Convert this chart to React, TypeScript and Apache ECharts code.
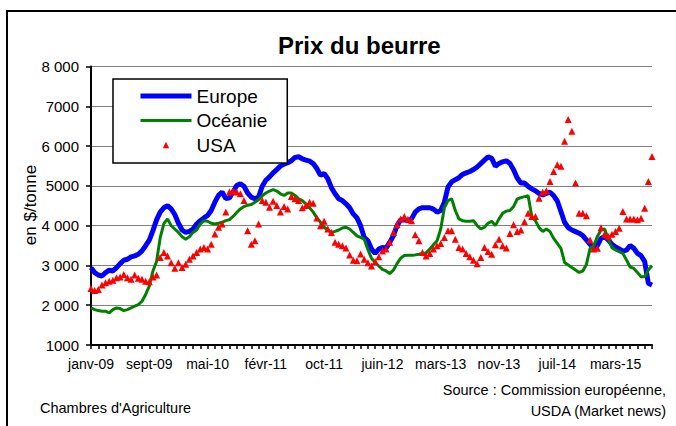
import React, { useEffect, useRef } from "react";
import * as echarts from "echarts";

// Half-tick sampling positions (155 points, ticks every 2 points)
const xTickLabels = ["janv-09", "sept-09", "mai-10", "févr-11", "oct-11", "juin-12", "mars-13", "nov-13", "juil-14", "mars-15"];
const yTickLabels: Record<number, string> = { 1000: "1000", 2000: "2 000", 3000: "3 000", 4000: "4 000", 5000: "5000", 6000: "6 000", 7000: "7000", 8000: "8 000" };

const europe = [
  2945, 2820, 2760, 2735, 2820, 2880, 2860, 2945, 3045, 3130, 3155, 3215, 3240, 3280, 3365, 3495, 3635, 3875, 4145, 4340,
  4450, 4505, 4420, 4280, 4060, 3890, 3830, 3855, 3915, 4040, 4125, 4195, 4255, 4380, 4590, 4760, 4845, 4680, 4700, 4845,
  5010, 5055, 4990, 4820, 4717, 4675, 4717, 4990, 5140, 5225, 5325, 5410, 5495, 5545, 5580, 5630, 5715, 5730, 5680, 5645,
  5620, 5560, 5435, 5265, 5310, 5180, 4955, 4800, 4675, 4630, 4550, 4450, 4295, 4195, 4000, 3705, 3620, 3410, 3300, 3410,
  3450, 3435, 3580, 3745, 4000, 4145, 4145, 4125, 4170, 4340, 4420, 4450, 4450, 4450, 4415, 4340, 4380, 4590, 4970, 5100,
  5155, 5205, 5290, 5325, 5360, 5410, 5475, 5560, 5645, 5730, 5690, 5495, 5560, 5605, 5630, 5565, 5405, 5195, 5070, 5070,
  4985, 4925, 4875, 4810, 4775, 4810, 4840, 4755, 4620, 4355, 4085, 3950, 3890, 3850, 3810, 3750, 3640, 3530, 3430, 3500,
  3680, 3725, 3640, 3530, 3465, 3415, 3360, 3385, 3500, 3430, 3305, 3245, 3095, 2550, 2505,
];

const oceanie = [
  1932, 1890, 1865, 1850, 1850, 1805, 1890, 1932, 1915, 1865, 1890, 1932, 1975, 2015, 2100, 2270, 2480, 2860, 3100, 3700,
  4050, 4170, 4000, 3915, 3830, 3720, 3660, 3720, 3830, 3890, 4040, 4125, 4110, 4060, 4040, 4060, 4085, 4125, 4150, 4230,
  4330, 4420, 4480, 4515, 4530, 4590, 4650, 4750, 4820, 4870, 4905, 4870, 4800, 4760, 4820, 4820, 4760, 4675, 4630, 4550,
  4450, 4340, 4195, 4085, 3960, 3890, 3830, 3855, 3890, 3940, 3960, 3915, 3830, 3745, 3705, 3660, 3400, 3180, 3070, 2985,
  2900, 2860, 2795, 2880, 3045, 3180, 3250, 3255, 3255, 3265, 3280, 3300, 3315, 3410, 3520, 3620, 3915, 4450, 4630, 4675,
  4380, 4170, 4125, 4110, 4110, 4125, 4000, 3915, 3960, 4060, 4110, 4000, 4170, 4310, 4365, 4380, 4480, 4670, 4705, 4730,
  4750, 4230, 4120, 3950, 3850, 3915, 3850, 3680, 3555, 3430, 3075, 3010, 2945, 2885, 2825, 2860, 3025, 3430, 3500, 3725,
  3890, 3915, 3665, 3445, 3390, 3345, 3305, 3135, 2960, 2925, 2825, 2715, 2715, 2885, 2995,
];

const usa = [
  2420, 2370, 2395, 2505, 2565, 2605, 2625, 2690, 2710, 2775, 2690, 2650, 2760, 2675, 2650, 2605, 2590, 2710, 2760, 3200,
  3325, 3240, 3070, 2930, 3070, 2945, 3030, 3155, 3240, 3325, 3410, 3450, 3410, 3535, 3790, 3960, 4040, 4340, 4845, 4870,
  4845, 4800, 4630, 3870, 3530, 3620, 4040, 4630, 4590, 4465, 4615, 4505, 4340, 4480, 4420, 4735, 4675, 4630, 4450, 4505,
  4590, 4565, 4195, 4000, 4110, 3915, 3830, 3580, 3535, 3495, 3435, 3265, 3130, 3115, 3285, 3155, 3070, 2985, 3100, 3215,
  3365, 3410, 3580, 3830, 4025, 4170, 4230, 4160, 4125, 3770, 3620, 3325, 3240, 3300, 3410, 3495, 3550, 3705, 3870, 3870,
  3660, 3450, 3410, 3300, 3215, 3130, 3045, 3200, 3450, 3350, 3280, 3520, 3660, 3495, 3435, 3800, 4020, 3850, 3890, 4100,
  4310, 4230, 4230, 4690, 4840, 4875, 5110, 5360, 5530, 5490, 6120, 6665, 6370, 5070, 4310, 4310, 4250, 3640, 3415, 3430,
  3950, 3785, 3725, 3785, 3850, 3935, 4355, 4170, 4170, 4170, 4145, 4185, 4440, 5110, 5740,
];

const categories = europe.map((_, i) => "p" + i);

const FONT = "'Liberation Sans', Arial, sans-serif";

export default function App() {
  const ref = useRef<HTMLDivElement>(null);
  useEffect(() => {
    if (!ref.current) return;
    const chart = echarts.init(ref.current, null, { renderer: "svg" });
    chart.setOption({
      animation: false,
      backgroundColor: "#fff",
      textStyle: { fontFamily: FONT },
      title: {
        text: "Prix du beurre",
        left: 278,
        top: 33,
        padding: 0,
        textStyle: { fontFamily: FONT, fontSize: 24, fontWeight: "bold", color: "#000" },
      },
      legend: {
        orient: "vertical",
        left: 113,
        top: 79,
        padding: [5, 20, 6, 25],
        itemWidth: 51,
        itemHeight: 8,
        itemGap: 0.5,
        selectedMode: false,
        backgroundColor: "#fff",
        borderColor: "#000",
        borderWidth: 1.5,
        borderRadius: 0,
        textStyle: { fontFamily: FONT, fontSize: 19, color: "#000", lineHeight: 24 },
        data: [
          { name: "Europe", lineStyle: { width: 5, color: "#0000FF" }, itemStyle: { opacity: 0 } },
          { name: "Océanie", lineStyle: { width: 3, color: "#008000" }, itemStyle: { opacity: 0 } },
          { name: "USA" },
        ],
      },
      grid: { left: 91, right: 24, top: 66.5, bottom: 81, containLabel: false },
      xAxis: {
        type: "category",
        data: categories,
        boundaryGap: false,
        axisLine: { lineStyle: { color: "#000", width: 2 } },
        axisTick: { interval: 1, length: 4, lineStyle: { color: "#000", width: 1.5 } },
        axisLabel: {
          interval: 15,
          color: "#000",
          fontSize: 14,
          fontFamily: FONT,
          margin: 12,
          formatter: (_v: string, idx: number) => xTickLabels[Math.round(idx / 16)] ?? "",
        },
        splitLine: { show: false },
      },
      yAxis: {
        type: "value",
        min: 1000,
        max: 8000,
        interval: 1000,
        axisLine: { show: true, lineStyle: { color: "#000", width: 2 } },
        axisTick: { show: true, length: 5, lineStyle: { color: "#000", width: 1.5 } },
        axisLabel: {
          color: "#000",
          fontSize: 15,
          fontFamily: FONT,
          margin: 12,
          formatter: (v: number) => yTickLabels[v] ?? String(v),
        },
        splitLine: { lineStyle: { color: "#808080", width: 1 } },
      },
      series: [
        {
          name: "Europe",
          type: "line",
          data: europe,
          symbol: "none",
          lineStyle: { color: "#0000FF", width: 5 },
          itemStyle: { color: "#0000FF" },
          z: 3,
        },
        {
          name: "Océanie",
          type: "line",
          data: oceanie,
          symbol: "none",
          lineStyle: { color: "#008000", width: 3 },
          itemStyle: { color: "#008000" },
          z: 4,
        },
        {
          name: "USA",
          type: "line",
          data: usa,
          symbol: "triangle",
          symbolSize: 7,
          showAllSymbol: true,
          lineStyle: { width: 0, opacity: 0 },
          itemStyle: { color: "#FF0000" },
          z: 5,
        },
      ],
      graphic: [
        {
          type: "rect",
          silent: true,
          shape: { x: 7, y: 11, width: 720, height: 500 },
          style: { fill: "none", stroke: "#000", lineWidth: 2 },
        },
        {
          type: "text",
          silent: true,
          x: 30,
          y: 205,
          rotation: Math.PI / 2,
          style: { text: "en $/tonne", fontSize: 17, fontFamily: FONT, fill: "#000", align: "center", verticalAlign: "middle" },
        },
        {
          type: "text",
          silent: true,
          x: 666,
          y: 390,
          style: { text: "Source : Commission européenne,", fontSize: 14.5, fontFamily: FONT, fill: "#000", align: "right", verticalAlign: "middle" },
        },
        {
          type: "text",
          silent: true,
          x: 666,
          y: 411,
          style: { text: "USDA (Market news)", fontSize: 14.5, fontFamily: FONT, fill: "#000", align: "right", verticalAlign: "middle" },
        },
        {
          type: "text",
          silent: true,
          x: 40,
          y: 408,
          style: { text: "Chambres d'Agriculture", fontSize: 14.5, fontFamily: FONT, fill: "#000", align: "left", verticalAlign: "middle" },
        },
      ],
    });
    return () => chart.dispose();
  }, []);
  return <div ref={ref} style={{ position: "fixed", left: 0, top: 0, width: 676, height: 426, background: "#fff" }} />;
}
